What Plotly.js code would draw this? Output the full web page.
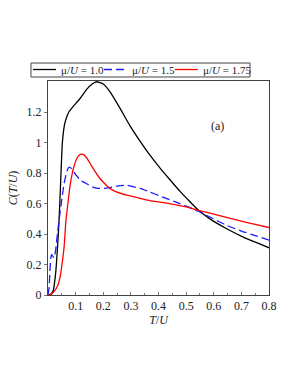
<!DOCTYPE html>
<html>
<head>
<meta charset="utf-8">
<script src="https://cdn.plot.ly/plotly-3.0.1.min.js"></script>
<style>html,body{margin:0;padding:0;background:#fff;}#chart{width:298px;height:385px;}</style>
</head>
<body>
<div id="chart"></div>
<script>
// mu/U = 1.0 (black solid)
const T1 = [0, 0.01, 0.019, 0.028, 0.035, 0.040, 0.046, 0.052, 0.060, 0.068, 0.075, 0.09, 0.116, 0.14, 0.16, 0.176, 0.2, 0.224, 0.261, 0.297, 0.333, 0.369, 0.405, 0.44, 0.478, 0.514, 0.544, 0.586, 0.647, 0.707, 0.76, 0.8];
const C1 = [0, 0.005, 0.03, 0.15, 0.33, 0.49, 0.75, 1.0, 1.12, 1.17, 1.2, 1.235, 1.29, 1.35, 1.385, 1.40, 1.385, 1.335, 1.225, 1.11, 1.01, 0.918, 0.835, 0.76, 0.68, 0.612, 0.558, 0.50, 0.435, 0.38, 0.34, 0.31];
// mu/U = 1.5 (blue dashed)
const T2 = [0, 0.004, 0.007, 0.010, 0.013, 0.017, 0.022, 0.028, 0.034, 0.040, 0.048, 0.058, 0.068, 0.076, 0.085, 0.10, 0.12, 0.136, 0.16, 0.18, 0.203, 0.224, 0.25, 0.285, 0.333, 0.369, 0.405, 0.44, 0.478, 0.514, 0.544, 0.586, 0.647, 0.70, 0.75, 0.8];
const C2 = [0, 0.05, 0.16, 0.24, 0.265, 0.255, 0.245, 0.30, 0.40, 0.49, 0.60, 0.73, 0.81, 0.84, 0.83, 0.79, 0.75, 0.735, 0.71, 0.70, 0.70, 0.705, 0.715, 0.72, 0.70, 0.676, 0.65, 0.626, 0.60, 0.573, 0.55, 0.512, 0.457, 0.42, 0.39, 0.36];
// mu/U = 1.75 (red solid)
const T3 = [0, 0.008, 0.015, 0.025, 0.035, 0.045, 0.052, 0.058, 0.065, 0.072, 0.08, 0.088, 0.095, 0.104, 0.113, 0.121, 0.13, 0.14, 0.152, 0.17, 0.188, 0.203, 0.224, 0.25, 0.285, 0.333, 0.369, 0.405, 0.454, 0.5, 0.544, 0.586, 0.635, 0.70, 0.75, 0.8];
const C3 = [0, 0.0, 0.01, 0.03, 0.06, 0.13, 0.22, 0.31, 0.49, 0.60, 0.72, 0.80, 0.85, 0.895, 0.918, 0.925, 0.92, 0.90, 0.865, 0.812, 0.765, 0.735, 0.70, 0.675, 0.655, 0.635, 0.62, 0.61, 0.595, 0.578, 0.556, 0.538, 0.515, 0.485, 0.463, 0.443];

const names = ['μ/<i>U</i> = 1.0', 'μ/<i>U</i> = 1.5', 'μ/<i>U</i> = 1.75'];
const colors = ['#000000', '#1a1aff', '#ff0000'];
const dashes = ['solid', '8px,4px', 'solid'];
const xTicks = [0.1, 0.2, 0.3, 0.4, 0.5, 0.6, 0.7, 0.8];
const yTicks = [0, 0.2, 0.4, 0.6, 0.8, 1, 1.2];

const FAM = 'Liberation Serif, Times New Roman, serif';
const mk = (size) => ({family: FAM, size: size, color: '#222'});

const series = [[T1, C1], [T2, C2], [T3, C3]];
const traces = series.map((s, i) => ({
  x: s[0], y: s[1], name: names[i], mode: 'lines', showlegend: false,
  line: {color: colors[i], width: 1.3, dash: dashes[i], shape: 'spline', smoothing: 0.5}
}));

// Legend drawn as a boxed row above the plot (paper coordinates)
const legLineX = [[-0.068, 0.036], [0.253, 0.357], [0.574, 0.678]];
const legTextX = [0.050, 0.370, 0.694];
const legY = 1.0537;
const shapes = [
  {type: 'rect', xref: 'paper', yref: 'paper', x0: -0.077, x1: 0.914, y0: 1.0187, y1: 1.084,
   line: {color: '#444', width: 1}, fillcolor: '#fff'}
];
const annotations = [
  {text: '(a)', xref: 'paper', yref: 'paper', x: 0.805, y: 0.83, showarrow: false, font: mk(12)}
];
names.forEach((n, i) => {
  shapes.push({type: 'line', xref: 'paper', yref: 'paper', x0: legLineX[i][0], x1: legLineX[i][1], y0: legY, y1: legY,
    line: {color: colors[i], width: 1.3, dash: dashes[i]}});
  annotations.push({text: n, xref: 'paper', yref: 'paper', x: legTextX[i], y: legY, xanchor: 'left', yanchor: 'middle',
    showarrow: false, font: mk(11)});
});

const layout = {
  width: 298, height: 385,
  margin: {l: 48, r: 29, t: 81, b: 90},
  paper_bgcolor: '#fff', plot_bgcolor: '#fff',
  font: mk(12),
  showlegend: false,
  shapes: shapes,
  annotations: annotations,
  xaxis: {
    range: [0, 0.8], tickvals: xTicks, ticktext: xTicks.map(String),
    showgrid: false, zeroline: false, showline: true, mirror: true,
    linecolor: '#444', linewidth: 1, ticks: 'inside', ticklen: 3, tickcolor: '#777',
    minor: {dtick: 0.05, ticks: 'inside', ticklen: 2, tickcolor: '#777'},
    tickfont: mk(12),
    title: {text: '<i>T</i>/<i>U</i>', font: mk(12), standoff: 0}
  },
  yaxis: {
    range: [0, 1.405], tickvals: yTicks, ticktext: yTicks.map(String),
    showgrid: false, zeroline: false, showline: true, mirror: true,
    linecolor: '#444', linewidth: 1, ticks: 'outside', ticklen: 3, tickcolor: '#777',
    tickfont: mk(12),
    title: {text: '<i>C</i>(<i>T</i>/<i>U</i>)', font: mk(12), standoff: 6}
  }
};

Plotly.newPlot('chart', traces, layout, {displayModeBar: false, staticPlot: true});
</script>
</body>
</html>
